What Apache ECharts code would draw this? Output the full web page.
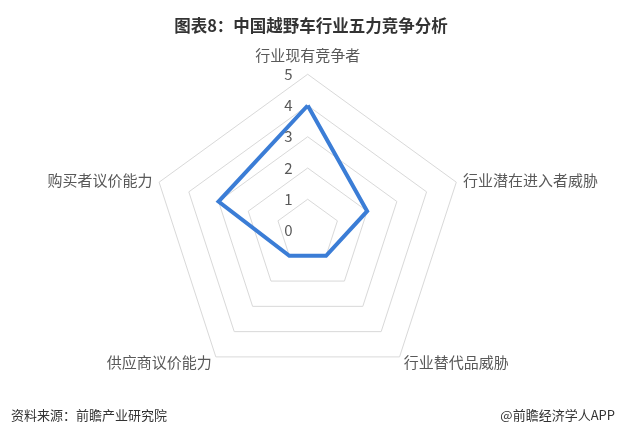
<!DOCTYPE html>
<html>
<head>
<meta charset="utf-8">
<script src="https://cdn.jsdelivr.net/npm/echarts@6/dist/echarts.min.js"></script>
<style>
html,body{margin:0;padding:0;background:#fff;}
#chart{width:622px;height:437px;}
</style>
</head>
<body>
<div id="chart"></div>
<script>
const titleText = '图表8：中国越野车行业五力竞争分析';
const sourceText = '资料来源：前瞻产业研究院';
const brandText = '@前瞻经济学人APP';
// clockwise from the top, as in the reference
const indicators = ['行业现有竞争者', '行业潜在进入者威胁', '行业替代品威胁', '供应商议价能力', '购买者议价能力'];
const values = [4, 2, 1, 1, 3];
const axisMax = 5;
const tickLabels = ['0', '1', '2', '3', '4', '5'];

// ECharts radar runs counter-clockwise; reorder so the layout runs clockwise
const order = [0, 4, 3, 2, 1];
const radarNames = order.map(i => indicators[i]);
const radarValues = order.map(i => values[i]);

const FONT = '"Noto Sans CJK SC", "Microsoft YaHei", sans-serif';
const CENTER = [307.7, 230.5];
const RADIUS = 156.25;

const chart = echarts.init(document.getElementById('chart'), null, {renderer: 'canvas'});
chart.setOption({
  backgroundColor: '#ffffff',
  animation: false,
  title: [
    {text: titleText, left: 'center', top: 12,
     textStyle: {fontFamily: FONT, fontSize: 16.5, fontWeight: 'bold', color: '#333333'}},
    {text: sourceText, left: 6, top: 404,
     textStyle: {fontFamily: FONT, fontSize: 13, fontWeight: 'normal', color: '#333333'}},
    {text: brandText, right: 2, top: 404,
     textStyle: {fontFamily: FONT, fontSize: 13, fontWeight: 'normal', color: '#333333'}}
  ],
  radar: {
    center: CENTER,
    radius: RADIUS,
    startAngle: 90,
    splitNumber: 5,
    shape: 'polygon',
    indicator: radarNames.map(n => ({name: n, min: 0, max: axisMax})),
    nameGap: 7,
    axisName: {
      fontFamily: FONT, fontSize: 15, color: '#595959',
      formatter: function (name) {
        return name === indicators[0] ? '{top|' + name + '}' : name;
      },
      rich: {top: {fontFamily: FONT, fontSize: 15, color: '#595959', padding: [0, 0, 4, 0]}}
    },
    axisLine: {show: false},
    axisTick: {show: false},
    axisLabel: {show: false},
    splitArea: {show: false},
    splitLine: {lineStyle: {color: '#d9d9d9', width: 1}}
  },
  polar: {center: CENTER, radius: RADIUS},
  angleAxis: {show: false, startAngle: 90, min: 0, max: 360},
  radiusAxis: {
    z: 10,
    min: 0, max: axisMax, interval: 1,
    axisLine: {show: false}, axisTick: {show: false}, splitLine: {show: false},
    axisLabel: {
      show: true, margin: 15, fontFamily: FONT, fontSize: 15, color: '#595959',
      formatter: function (v) { return tickLabels[Math.round(v)]; }
    }
  },
  series: [{
    type: 'radar',
    z: 2,
    symbol: 'none',
    lineStyle: {color: '#3b7dd6', width: 4, join: 'miter'},
    itemStyle: {color: '#3b7dd6'},
    data: [{value: radarValues, name: '五力'}]
  }]
});
</script>
</body>
</html>
